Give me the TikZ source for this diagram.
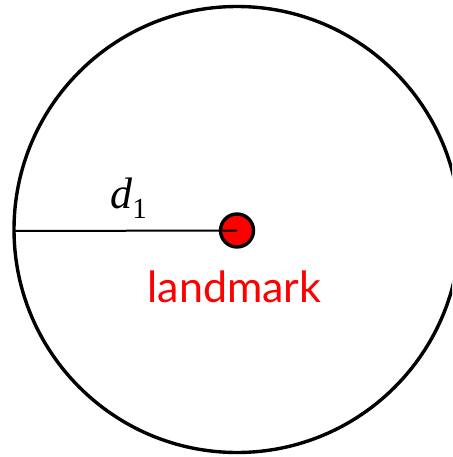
\documentclass[tikz,border=0pt]{standalone}
\usepackage{fontspec}
\setmainfont{Liberation Serif}
\newfontfamily\labelfont{Lato}
\begin{document}
\begin{tikzpicture}[x=1pt,y=-1pt,
  ring/.style={circle,draw=black,line width=3.4pt,inner sep=0pt},
  radius line/.style={draw=black,line width=2pt},
  dotstyle/.style={circle,draw=black,fill=red,line width=3.4pt,minimum size=33pt,inner sep=0pt},
  lbl/.style={text=red,font=\labelfont\fontsize{43}{43}\selectfont,inner sep=0pt}]
\useasboundingbox (0,0) rectangle (452,457);
\clip (0,0) rectangle (452,457);
\node[ring,minimum size=446pt] (big) at (237,229.5) {};
\coordinate (left) at (14,231);
\node[dotstyle] (lm) at (237,230.5) {};
\draw[radius line] (left) -- (lm.center);
\node[anchor=base west,inner sep=0pt,font=\fontsize{44}{44}\selectfont] (d) at (110,208) {\textit{d}\raisebox{-10pt}{\fontsize{29}{29}\selectfont 1}};
\node[lbl,anchor=base] (name) at (234.5,302) {landmark};
\end{tikzpicture}
\end{document}
